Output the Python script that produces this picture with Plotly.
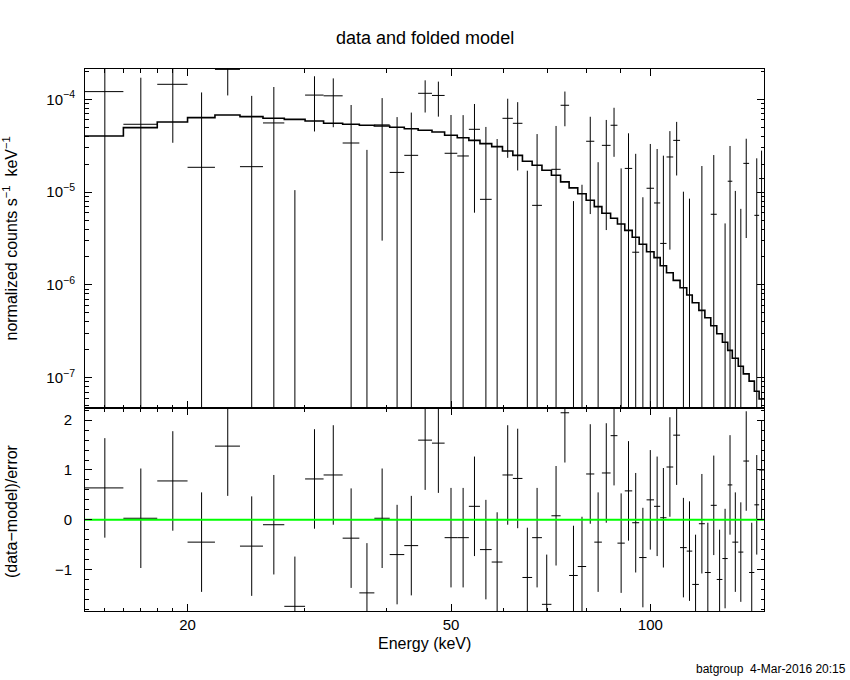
import math
import plotly.graph_objects as go

# channel boundaries (keV), 59 channels
e_edges = [14.0, 16.0, 18.0, 20.0, 22.0, 24.0, 26.0, 28.0, 30.1, 32.1,
           34.3, 36.35, 38.3, 40.4, 42.5, 44.6, 46.8, 48.9, 51.1, 53.2,
           55.3, 57.6, 59.8, 62.0, 64.1, 66.3, 68.6, 70.9, 73.2, 75.4,
           77.7, 80.0, 82.3, 84.5, 87.1, 89.2, 91.5, 93.9, 96.2, 98.7,
           101.3, 103.5, 105.8, 108.3, 110.9, 113.5, 115.7, 118.4, 120.9, 123.4,
           126.0, 128.5, 130.9, 133.0, 135.8, 138.2, 141.0, 143.6, 146.0, 148.5]

# normalized counts s^-1 keV^-1
rate = [1.21e-4, 5.38e-5, 1.45e-4, 1.85e-5, 2.1e-4, 1.88e-5, 5.56e-5, -5.75e-5, 1.11e-4, 1.09e-4,
        3.38e-5, -2.25e-5, 5.3e-5, 1.63e-5, 2.49e-5, 1.16e-4, 1.10e-4, 2.62e-5, 2.45e-5, 4.75e-5,
        8.36e-6, -6.7e-6, 6.24e-5, 5.51e-5, -1.2e-5, 7.2e-6, -4.06e-5, 1.76e-5, 8.62e-5, -1.9e-5,
        -2.0e-5, 3.53e-5, -4.7e-6, 3.19e-5, 5.25e-5, -7.4e-6, 1.80e-5, 2.25e-6, -1.6e-5, 1.1e-5,
        7.64e-6, 2.8e-6, 2.39e-5, 3.61e-5, -1.07e-5, -1.22e-5, -2.54e-5, -1.1e-6, -2.08e-5, 5.77e-6,
        -2.31e-5, -1.54e-5, 1.31e-5, -8.1e-6, -1.18e-5, 2.04e-5, -1.8e-5, 5.62e-6, 1.4e-5]

rate_err = [1.26e-4, 1.17e-4, 1.11e-4, 1.0e-4, 1.0e-4, 9.0e-5, 8.0e-5, 6.8e-5, 6.6e-5, 5.9e-5,
            5.3e-5, 5.1e-5, 5.0e-5, 4.8e-5, 4.7e-5, 4.4e-5, 4.5e-5, 4.15e-5, 4.3e-5, 4.15e-5,
            4.2e-5, 4.4e-5, 3.9e-5, 3.8e-5, 2.9e-5, 3.5e-5, 3.4e-5, 3.4e-5, 3.5e-5, 2.7e-5,
            3.2e-5, 2.95e-5, 2.57e-5, 2.8e-5, 2.85e-5, 2.54e-5, 2.5e-5, 2.36e-5, 2.48e-5, 2.2e-5,
            2.15e-5, 2.19e-5, 2.15e-5, 2.1e-5, 2.08e-5, 2.07e-5, 2.0e-5, 2.02e-5, 2.0e-5, 1.93e-5,
            1.95e-5, 2.0e-5, 1.83e-5, 1.84e-5, 1.84e-5, 1.72e-5, 1.7e-5, 1.75e-5, 1.4e-5]

model = [4.02e-5, 4.95e-5, 5.69e-5, 6.34e-5, 6.78e-5, 6.5e-5, 6.24e-5, 6.08e-5, 5.83e-5, 5.51e-5,
         5.38e-5, 5.25e-5, 5.15e-5, 4.99e-5, 4.82e-5, 4.64e-5, 4.44e-5, 4.1e-5, 3.85e-5, 3.61e-5,
         3.33e-5, 3.09e-5, 2.77e-5, 2.49e-5, 2.15e-5, 1.95e-5, 1.72e-5, 1.52e-5, 1.29e-5, 1.11e-5,
         9.6e-6, 8.16e-6, 6.97e-6, 5.92e-6, 5.22e-6, 4.53e-6, 3.87e-6, 3.26e-6, 2.74e-6, 2.28e-6,
         1.97e-6, 1.61e-6, 1.35e-6, 1.12e-6, 9.33e-7, 7.78e-7, 6.43e-7, 5.32e-7, 4.43e-7, 3.63e-7,
         2.98e-7, 2.41e-7, 1.97e-7, 1.62e-7, 1.33e-7, 1.1e-7, 9.2e-8, 7.15e-8, 5.9e-8]

# (data-model)/error
resid = [0.64, 0.03, 0.78, -0.45, 1.48, -0.53, -0.10, -1.74, 0.82, 0.90,
         -0.37, -1.47, 0.03, -0.70, -0.52, 1.60, 1.54, -0.36, -0.36, 0.27,
         -0.60, -0.85, 0.90, 0.83, -1.16, -0.36, -1.70, 0.08, 2.15, -1.12,
         -0.94, 0.92, -0.45, 0.94, 1.69, -0.47, 0.58, -0.06, -0.76, 0.40,
         0.27, 0.04, 1.06, 1.70, -0.56, -0.63, -1.30, -0.08, -1.06, 0.29,
         -1.20, -0.78, 0.70, -0.45, -0.65, 1.18, -1.06, 0.30, 1.00]

x_ticks = [20, 50, 100]
x_ticktext = ["20", "50", "100"]
x_minor = [14, 15, 16, 17, 18, 19, 30, 40, 60, 70, 80, 90]
y_ticks = [1e-7, 1e-6, 1e-5, 1e-4]
y_ticktext = ["10<sup>\u22127</sup>", "10<sup>\u22126</sup>", "10<sup>\u22125</sup>", "10<sup>\u22124</sup>"]
r_ticks = [-1, 0, 1, 2]
r_ticktext = ["\u22121", "0", "1", "2"]

FONT = "Liberation Sans"
W, H = 850, 680
# plot frame in pixels
X0, X1 = 85, 764
Y_TOP, Y_MID, Y_BOT = 69, 408, 611
FLOOR = 1e-9

lo = e_edges[:-1]
hi = e_edges[1:]
mid = [(a + b) / 2 for a, b in zip(lo, hi)]

# upper panel: error bars built as broken line segments
vx, vy, hx, hy = [], [], [], []
for c, a, b, d, s in zip(mid, lo, hi, rate, rate_err):
    top = d + s
    if top > 0:
        vx += [c, c, None]
        vy += [max(d - s, FLOOR), top, None]
    if d > 0:
        hx += [a, b, None]
        hy += [d, d, None]

# lower panel
rvx, rvy, rhx, rhy = [], [], [], []
for c, a, b, r in zip(mid, lo, hi, resid):
    rvx += [c, c, None]
    rvy += [r - 1, r + 1, None]
    rhx += [a, b, None]
    rhy += [r, r, None]

fig = go.Figure()
line_k = dict(color="black", width=1)

fig.add_trace(go.Scatter(x=vx, y=vy, mode="lines", line=line_k, xaxis="x", yaxis="y"))
fig.add_trace(go.Scatter(x=hx, y=hy, mode="lines", line=line_k, xaxis="x", yaxis="y"))
fig.add_trace(go.Scatter(x=e_edges, y=model + [model[-1]], mode="lines",
                         line=dict(color="black", width=1.6, shape="hv"),
                         xaxis="x", yaxis="y"))

fig.add_trace(go.Scatter(x=rvx, y=rvy, mode="lines", line=line_k, xaxis="x2", yaxis="y2"))
fig.add_trace(go.Scatter(x=rhx, y=rhy, mode="lines", line=line_k, xaxis="x2", yaxis="y2"))
fig.add_trace(go.Scatter(x=[e_edges[0], e_edges[-1]], y=[0, 0], mode="lines",
                         line=dict(color="#00ff00", width=2), xaxis="x2", yaxis="y2"))

xr = [math.log10(e_edges[0]), math.log10(e_edges[-1])]
xdom = [X0 / W, X1 / W]
tickfont = dict(family=FONT, size=15, color="black")

common_x = dict(type="log", range=xr, domain=xdom, showline=True, linecolor="black",
                linewidth=1, mirror="allticks", ticks="inside", ticklen=7,
                tickcolor="black", tickvals=x_ticks, ticktext=x_ticktext,
                minor=dict(tickvals=x_minor, ticks="inside", ticklen=3.5, tickcolor="black"),
                showgrid=False, zeroline=False, tickfont=tickfont)

y_minor = [m * 10.0 ** p for p in range(-8, -3) for m in range(2, 10)]
r_minor = [v / 5 for v in range(-9, 12) if v % 5 != 0]

fig.update_layout(
    width=W, height=H,
    margin=dict(l=0, r=0, t=0, b=0),
    paper_bgcolor="white", plot_bgcolor="white",
    showlegend=False,
    xaxis=dict(common_x, anchor="y", showticklabels=False),
    xaxis2=dict(common_x, anchor="y2", showticklabels=True),
    yaxis=dict(type="log", range=[math.log10(4.72e-8), math.log10(2.12e-4)],
               domain=[1 - Y_MID / H, 1 - Y_TOP / H], anchor="x",
               showline=True, linecolor="black", linewidth=1, mirror="allticks",
               ticks="inside", ticklen=7, tickcolor="black",
               tickvals=y_ticks, ticktext=y_ticktext, tickfont=tickfont,
               minor=dict(tickvals=y_minor, ticks="inside", ticklen=3.5, tickcolor="black"),
               showgrid=False, zeroline=False, ticklabelstandoff=6),
    yaxis2=dict(range=[-1.834, 2.246],
                domain=[1 - Y_BOT / H, 1 - Y_MID / H], anchor="x2",
                showline=True, linecolor="black", linewidth=1, mirror="allticks",
                ticks="inside", ticklen=7, tickcolor="black",
                tickvals=r_ticks, ticktext=r_ticktext, tickfont=tickfont,
                minor=dict(tickvals=r_minor, ticks="inside", ticklen=3.5, tickcolor="black"),
                showgrid=False, zeroline=False, ticklabelstandoff=9),
)

ann_font = dict(family=FONT, size=16, color="black")
ann = dict(xref="paper", yref="paper", showarrow=False, xanchor="center", yanchor="middle")
fig.add_annotation(text="data and folded model", x=(X0 + X1) / 2 / W, y=1 - 38 / H,
                   font=dict(family=FONT, size=18, color="black"), **ann)
fig.add_annotation(text="normalized counts s<sup>\u22121</sup>&nbsp;&nbsp;keV<sup>\u22121</sup>",
                   x=11 / W, y=1 - (Y_TOP + Y_MID) / 2 / H, textangle=-90, font=ann_font, **ann)
fig.add_annotation(text="(data\u2212model)/error", x=11 / W, y=1 - 511 / H,
                   textangle=-90, font=ann_font, **ann)
fig.add_annotation(text="Energy (keV)", x=(X0 + X1) / 2 / W, y=1 - 643 / H,
                   font=ann_font, **ann)
fig.add_annotation(text="batgroup&nbsp;&nbsp;4-Mar-2016 20:15", x=848 / W, y=1 - 669 / H,
                   xref="paper", yref="paper", showarrow=False, xanchor="right",
                   yanchor="middle", font=dict(family=FONT, size=12, color="black"))

# page body margin would shift the figure; keep it flush with the window corner
fig.write_html("out.html", config={"displayModeBar": False},
               post_script="document.body.style.margin='0';")
